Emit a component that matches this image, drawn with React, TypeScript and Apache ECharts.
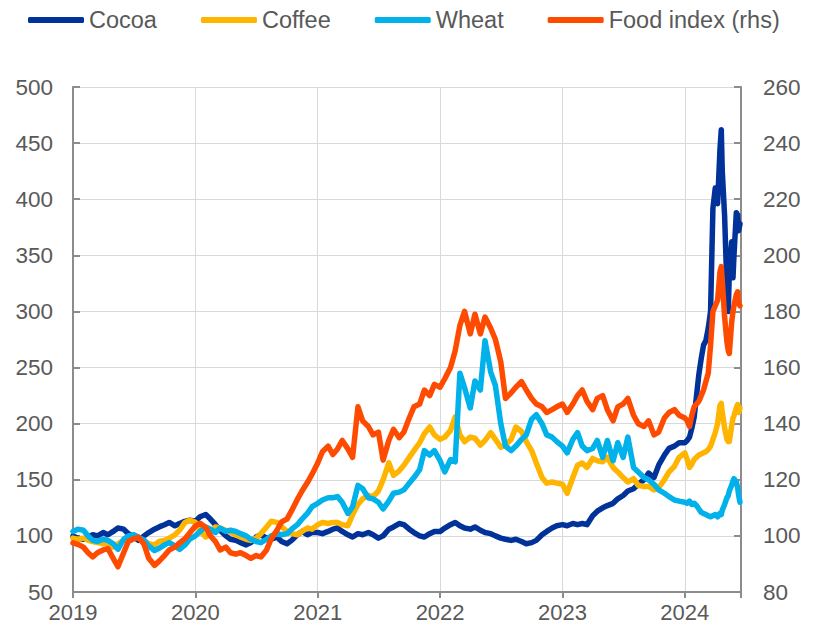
import React, { useEffect, useRef } from "react";
import * as echarts from "echarts";

// ---- sampling dates: 1st and 15th of each month 2019-2023, then weekly-ish in 2024
const halfMonthYears = [2019, 2020, 2021, 2022, 2023];
const halfMonthDays = ["01", "15"];
const dates2024 = [
  "2024-01-01", "2024-01-08", "2024-01-15", "2024-01-22", "2024-01-29",
  "2024-02-05", "2024-02-12", "2024-02-19", "2024-02-26",
  "2024-03-04", "2024-03-11", "2024-03-18", "2024-03-25",
  "2024-04-01", "2024-04-08", "2024-04-15", "2024-04-19", "2024-04-22", "2024-04-29",
  "2024-05-06", "2024-05-10", "2024-05-13", "2024-05-20", "2024-05-24", "2024-05-27",
  "2024-06-03", "2024-06-07", "2024-06-10", "2024-06-14",
];
const axisEndDate = "2024-06-17";

// ---- Cocoa (lhs)
const cocoa2019 = [100, 98, 97, 99, 101, 100, 103, 101, 104, 107, 106, 102, 99, 96, 100, 103, 106, 108, 110, 112, 109, 111, 113, 114];
const cocoa2020 = [113, 117, 119, 115, 110, 105, 100, 97, 96, 94, 92, 94, 99, 101, 98, 97, 99, 95, 93, 96, 101, 104, 101, 103];
const cocoa2021 = [103, 102, 104, 106, 107, 104, 101, 99, 102, 101, 103, 101, 98, 100, 106, 108, 111, 110, 106, 103, 100, 99, 102, 104];
const cocoa2022 = [104, 107, 110, 112, 109, 107, 106, 108, 105, 103, 102, 100, 98, 97, 96, 97, 95, 93, 94, 96, 101, 104, 107, 109];
const cocoa2023 = [110, 109, 111, 110, 111, 110, 118, 122, 125, 127, 129, 133, 136, 140, 142, 146, 150, 156, 152, 163, 172, 178, 180, 183];
const cocoa2024 = [183, 185, 188, 196, 206, 225, 244, 258, 270, 274, 285, 300, 392, 410, 396, 444, 462, 425, 385, 320, 300, 335, 362, 330, 350, 388, 386, 372, 378];

// ---- Coffee (lhs)
const coffee2019 = [98, 97, 98, 96, 95, 94, 93, 94, 90, 93, 96, 99, 100, 98, 96, 93, 92, 95, 96, 98, 101, 105, 112, 114];
const coffee2020 = [112, 104, 99, 102, 108, 107, 105, 103, 101, 99, 97, 96, 98, 102, 108, 113, 112, 108, 104, 102, 101, 104, 107, 106];
const coffee2021 = [110, 112, 111, 112, 112, 110, 109, 119, 128, 133, 136, 135, 140, 150, 165, 154, 158, 163, 170, 176, 183, 191, 197, 190];
const coffee2022 = [186, 188, 194, 206, 190, 184, 188, 187, 181, 185, 192, 186, 179, 181, 186, 197, 193, 184, 176, 165, 152, 147, 148, 147];
const coffee2023 = [146, 138, 152, 163, 165, 161, 169, 167, 166, 170, 161, 157, 152, 148, 151, 145, 144, 144, 141, 143, 150, 157, 162, 170];
const coffee2024 = [174, 168, 161, 164, 168, 170, 172, 173, 174, 175, 177, 180, 186, 192, 200, 216, 218, 210, 196, 186, 184, 184, 198, 205, 207, 214, 217, 210, 214];

// ---- Wheat (lhs)
const wheat2019 = [104, 106, 105, 100, 96, 95, 97, 96, 93, 88, 97, 100, 101, 99, 96, 91, 87, 89, 92, 94, 91, 88, 92, 97];
const wheat2020 = [100, 104, 108, 106, 103, 107, 104, 105, 104, 102, 100, 97, 95, 94, 97, 100, 102, 101, 102, 106, 110, 115, 120, 126];
const wheat2021 = [129, 132, 134, 134, 135, 130, 120, 126, 145, 142, 134, 133, 130, 124, 131, 138, 139, 141, 147, 152, 159, 176, 172, 176];
const wheat2022 = [167, 157, 168, 166, 245, 232, 214, 238, 230, 274, 246, 234, 200, 180, 176, 180, 186, 190, 204, 208, 200, 190, 188, 184];
const wheat2023 = [180, 174, 186, 192, 180, 176, 178, 185, 170, 185, 167, 183, 170, 188, 161, 157, 152, 150, 146, 141, 138, 135, 132, 131];
const wheat2024 = [130, 129, 131, 128, 129, 127, 124, 121, 120, 119, 118, 117, 118, 119, 117, 120, 119, 123, 128, 134, 136, 140, 145, 149, 151, 148, 143, 136, 130];

// ---- Food index (rhs)
const food2019 = [97.5, 97, 96, 94, 92.5, 94, 95, 95.5, 92, 89, 94, 98, 99, 99.5, 97, 92, 89.5, 91, 93, 95, 96, 97.5, 99, 101];
const food2020 = [103.5, 104.5, 103, 100, 98, 95, 96, 94, 93.5, 94, 93, 92, 93, 92.5, 95, 99, 102, 105, 106, 109, 113, 116, 119, 122];
const food2021 = [126, 130, 132, 129, 131, 134, 131, 128, 146, 141, 139, 136, 137, 127, 134, 138, 135, 137, 142, 146, 147, 152, 150, 154];
const food2022 = [153, 156, 160, 166, 175, 180, 172, 179, 172, 178, 174, 170, 162, 149, 151, 153, 155, 152, 149, 147, 146, 144, 145, 146];
const food2023 = [147, 144, 147, 150, 152, 148, 145, 149, 150, 145, 141, 146, 147, 149, 143, 140, 139, 141, 136, 137, 142, 144, 145, 143];
const food2024 = [142, 141, 139, 143, 146, 147, 148, 150, 152, 155, 158, 168, 180, 182, 184, 194, 196, 191, 178, 169, 166, 165, 176, 180, 182, 186, 187, 183, 182];

const seriesNames = ["Cocoa", "Coffee", "Wheat", "Food index (rhs)"];
const seriesColors = ["#003299", "#FFB400", "#00B1EA", "#FF4B00"];

const leftTicks = { min: 50, max: 500, interval: 50 };
const rightTicks = { min: 80, max: 260, interval: 20 };

function toYear(s: string): number {
  const [y, m, d] = s.split("-").map(Number);
  const start = Date.UTC(y, 0, 1);
  const end = Date.UTC(y + 1, 0, 1);
  return y + (Date.UTC(y, m - 1, d) - start) / (end - start);
}

function buildDates(): string[] {
  const out: string[] = [];
  for (const y of halfMonthYears) {
    for (let m = 1; m <= 12; m++) {
      const mm = m < 10 ? "0" + m : String(m);
      for (const dd of halfMonthDays) out.push(`${y}-${mm}-${dd}`);
    }
  }
  return out.concat(dates2024);
}

const FONT = "'Liberation Sans', Arial, sans-serif";
const TEXT = "#595959";
const AXIS = "#8c8c8c";
const GRID = "#d9d9d9";

export default function App() {
  const ref = useRef<HTMLDivElement>(null);
  useEffect(() => {
    if (!ref.current) return;
    const chart = echarts.init(ref.current, undefined, { renderer: "svg" });
    const xs = buildDates().map(toYear);
    const values = [
      [...cocoa2019, ...cocoa2020, ...cocoa2021, ...cocoa2022, ...cocoa2023, ...cocoa2024],
      [...coffee2019, ...coffee2020, ...coffee2021, ...coffee2022, ...coffee2023, ...coffee2024],
      [...wheat2019, ...wheat2020, ...wheat2021, ...wheat2022, ...wheat2023, ...wheat2024],
      [...food2019, ...food2020, ...food2021, ...food2022, ...food2023, ...food2024],
    ];
    chart.setOption({
      animation: false,
      backgroundColor: "#ffffff",
      textStyle: { fontFamily: FONT },
      legend: {
        data: seriesNames,
        top: 3,
        left: 23,
        icon: "roundRect",
        itemWidth: 56,
        itemHeight: 6,
        itemGap: 44,
        textStyle: { fontSize: 23.5, color: TEXT, fontFamily: FONT },
      },
      grid: { left: 73, right: 77, top: 87, bottom: 40, containLabel: false },
      xAxis: {
        type: "value",
        min: 2019,
        max: toYear(axisEndDate),
        interval: 1,
        axisLine: { show: true, lineStyle: { color: AXIS, width: 2 } },
        axisTick: { show: true, inside: false, length: 6, lineStyle: { color: AXIS, width: 2 } },
        axisLabel: {
          show: true,
          margin: 9,
          fontSize: 22,
          color: TEXT,
          fontFamily: FONT,
          formatter: (v: number) => (Math.abs(v - Math.round(v)) < 1e-6 ? String(Math.round(v)) : ""),
        },
        splitLine: { show: true, lineStyle: { color: GRID, width: 1 } },
      },
      yAxis: [
        {
          type: "value",
          position: "left",
          ...leftTicks,
          axisLine: { show: true, lineStyle: { color: AXIS, width: 2 } },
          axisTick: { show: true, inside: true, length: 7, lineStyle: { color: AXIS, width: 2 } },
          axisLabel: { margin: 20, fontSize: 22.5, color: TEXT, fontFamily: FONT },
          splitLine: { show: true, lineStyle: { color: GRID, width: 1 } },
        },
        {
          type: "value",
          position: "right",
          ...rightTicks,
          axisLine: { show: true, lineStyle: { color: AXIS, width: 2 } },
          axisTick: { show: true, inside: true, length: 7, lineStyle: { color: AXIS, width: 2 } },
          axisLabel: { margin: 22, fontSize: 22.5, color: TEXT, fontFamily: FONT },
          splitLine: { show: false },
        },
      ],
      series: seriesNames.map((name, i) => ({
        name,
        type: "line",
        yAxisIndex: i === 3 ? 1 : 0,
        data: xs.map((x, k) => [x, values[i][k]]),
        symbol: "none",
        showSymbol: false,
        color: seriesColors[i],
        lineStyle: { color: seriesColors[i], width: 5.5, join: "round", cap: "round" },
        z: 2 + i,
      })),
    });
    return () => chart.dispose();
  }, []);
  return (
    <div
      ref={ref}
      style={{ position: "absolute", left: 0, top: 0, width: 818, height: 632 }}
    />
  );
}
